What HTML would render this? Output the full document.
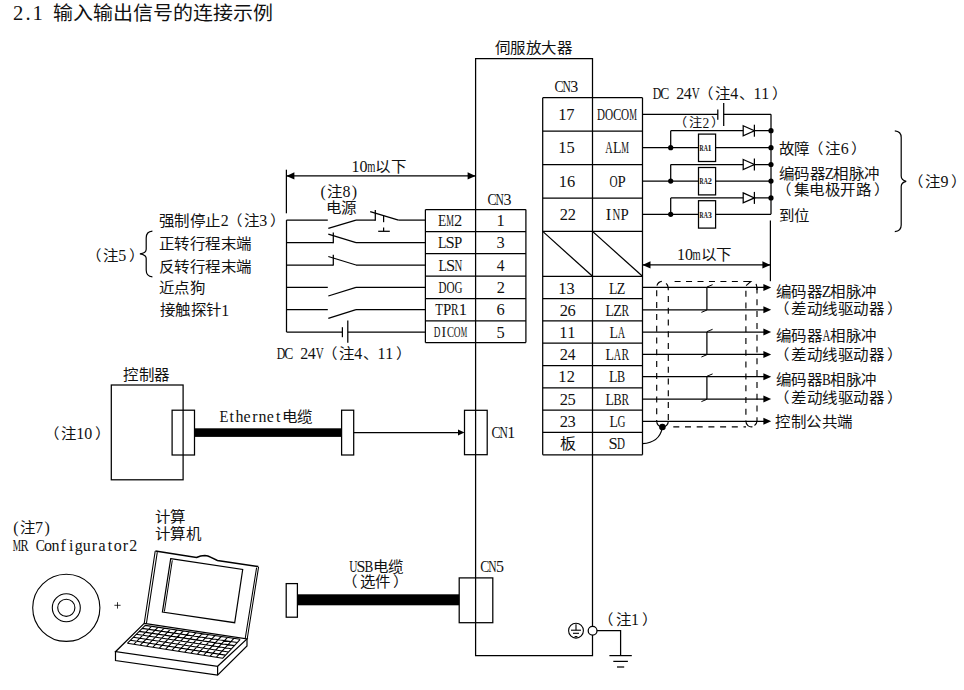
<!DOCTYPE html>
<html lang="zh-CN"><head><meta charset="utf-8"><title>输入输出信号的连接示例</title>
<style>
html,body{margin:0;padding:0;background:#fff;width:964px;height:690px;overflow:hidden}
svg{display:block}
text{font-family:"Liberation Serif",serif;fill:#111}
</style></head><body>
<svg width="964" height="690" viewBox="0 0 964 690">
<g stroke="#000" fill="none">
<path d="M475.6,655.6 L475.6,58.5 L592.5,58.5 L592.5,655.6 Z" stroke-width="1.25" fill="none" />
<line x1="542.7" y1="97.7" x2="642.5" y2="97.7" stroke-width="1.25" />
<line x1="542.7" y1="131.1" x2="642.5" y2="131.1" stroke-width="1.25" />
<line x1="542.7" y1="164.6" x2="642.5" y2="164.6" stroke-width="1.25" />
<line x1="542.7" y1="198.0" x2="642.5" y2="198.0" stroke-width="1.25" />
<line x1="542.7" y1="231.4" x2="642.5" y2="231.4" stroke-width="1.25" />
<line x1="542.7" y1="276.3" x2="642.5" y2="276.3" stroke-width="1.25" />
<line x1="542.7" y1="298.61" x2="642.5" y2="298.61" stroke-width="1.25" />
<line x1="542.7" y1="320.93" x2="642.5" y2="320.93" stroke-width="1.25" />
<line x1="542.7" y1="343.24" x2="642.5" y2="343.24" stroke-width="1.25" />
<line x1="542.7" y1="365.55" x2="642.5" y2="365.55" stroke-width="1.25" />
<line x1="542.7" y1="387.86" x2="642.5" y2="387.86" stroke-width="1.25" />
<line x1="542.7" y1="410.18" x2="642.5" y2="410.18" stroke-width="1.25" />
<line x1="542.7" y1="432.49" x2="642.5" y2="432.49" stroke-width="1.25" />
<line x1="542.7" y1="454.8" x2="642.5" y2="454.8" stroke-width="1.25" />
<line x1="542.7" y1="97.7" x2="542.7" y2="454.8" stroke-width="1.25" />
<line x1="642.5" y1="97.7" x2="642.5" y2="454.8" stroke-width="1.25" />
<line x1="542.7" y1="231.4" x2="592.5" y2="276.3" stroke-width="1.25" />
<line x1="592.5" y1="231.4" x2="642.5" y2="276.3" stroke-width="1.25" />
<line x1="642.5" y1="114.3" x2="717.8" y2="114.3" stroke-width="1.25" />
<line x1="717.8" y1="109.6" x2="717.8" y2="119.7" stroke-width="1.25" />
<line x1="723.7" y1="103.0" x2="723.7" y2="126.0" stroke-width="1.25" />
<line x1="723.7" y1="114.3" x2="771.0" y2="114.3" stroke-width="1.25" />
<line x1="771.0" y1="114.3" x2="771.0" y2="214.3" stroke-width="1.25" />
<line x1="642.5" y1="147.7" x2="771.0" y2="147.7" stroke-width="1.25" />
<line x1="670.7" y1="147.7" x2="670.7" y2="130.7" stroke-width="1.25" />
<line x1="670.7" y1="130.7" x2="771.0" y2="130.7" stroke-width="1.25" />
<circle cx="670.7" cy="147.7" r="2.6" fill="#000" stroke="none"/>
<circle cx="771.0" cy="130.7" r="2.6" fill="#000" stroke="none"/>
<circle cx="771.0" cy="147.7" r="2.6" fill="#000" stroke="none"/>
<path d="M743.2,125.69999999999999 L754.4,130.7 L743.2,135.7 Z" stroke-width="1.25" fill="#fff" />
<line x1="754.4" y1="124.69999999999999" x2="754.4" y2="136.7" stroke-width="1.25" />
<rect x="698.5" y="134.1" width="17.1" height="27.4" fill="#fff" stroke-width="1.25" />
<line x1="642.5" y1="181.1" x2="771.0" y2="181.1" stroke-width="1.25" />
<line x1="670.7" y1="181.1" x2="670.7" y2="164.5" stroke-width="1.25" />
<line x1="670.7" y1="164.5" x2="771.0" y2="164.5" stroke-width="1.25" />
<circle cx="670.7" cy="181.1" r="2.6" fill="#000" stroke="none"/>
<circle cx="771.0" cy="164.5" r="2.6" fill="#000" stroke="none"/>
<circle cx="771.0" cy="181.1" r="2.6" fill="#000" stroke="none"/>
<path d="M743.2,159.5 L754.4,164.5 L743.2,169.5 Z" stroke-width="1.25" fill="#fff" />
<line x1="754.4" y1="158.5" x2="754.4" y2="170.5" stroke-width="1.25" />
<rect x="698.5" y="167.5" width="17.1" height="27.4" fill="#fff" stroke-width="1.25" />
<line x1="642.5" y1="214.3" x2="771.0" y2="214.3" stroke-width="1.25" />
<line x1="670.7" y1="214.3" x2="670.7" y2="197.9" stroke-width="1.25" />
<line x1="670.7" y1="197.9" x2="771.0" y2="197.9" stroke-width="1.25" />
<circle cx="670.7" cy="214.3" r="2.6" fill="#000" stroke="none"/>
<circle cx="771.0" cy="197.9" r="2.6" fill="#000" stroke="none"/>
<path d="M743.2,192.9 L754.4,197.9 L743.2,202.9 Z" stroke-width="1.25" fill="#fff" />
<line x1="754.4" y1="191.9" x2="754.4" y2="203.9" stroke-width="1.25" />
<rect x="698.5" y="200.70000000000002" width="17.1" height="27.4" fill="#fff" stroke-width="1.25" />
<line x1="770.4" y1="220.5" x2="770.4" y2="281.2" stroke-width="1.25" />
<line x1="642.5" y1="264.9" x2="770.4" y2="264.9" stroke-width="1.25" />
<path d="M642.5,264.9 L650.5,261.29999999999995 L650.5,268.5 Z" fill="#000" stroke="none"/>
<path d="M770.4,264.9 L762.4,261.29999999999995 L762.4,268.5 Z" fill="#000" stroke="none"/>
<line x1="642.5" y1="287.45500000000004" x2="765" y2="287.45500000000004" stroke-width="1.25" />
<path d="M771.2,287.45500000000004 L763.4000000000001,283.95500000000004 L763.4000000000001,290.95500000000004 Z" fill="#000" stroke="none"/>
<line x1="642.5" y1="309.77" x2="765" y2="309.77" stroke-width="1.25" />
<path d="M771.2,309.77 L763.4000000000001,306.27 L763.4000000000001,313.27 Z" fill="#000" stroke="none"/>
<line x1="642.5" y1="332.08500000000004" x2="765" y2="332.08500000000004" stroke-width="1.25" />
<path d="M771.2,332.08500000000004 L763.4000000000001,328.58500000000004 L763.4000000000001,335.58500000000004 Z" fill="#000" stroke="none"/>
<line x1="642.5" y1="354.395" x2="765" y2="354.395" stroke-width="1.25" />
<path d="M771.2,354.395 L763.4000000000001,350.895 L763.4000000000001,357.895 Z" fill="#000" stroke="none"/>
<line x1="642.5" y1="376.70500000000004" x2="765" y2="376.70500000000004" stroke-width="1.25" />
<path d="M771.2,376.70500000000004 L763.4000000000001,373.20500000000004 L763.4000000000001,380.20500000000004 Z" fill="#000" stroke="none"/>
<line x1="642.5" y1="399.02" x2="765" y2="399.02" stroke-width="1.25" />
<path d="M771.2,399.02 L763.4000000000001,395.52 L763.4000000000001,402.52 Z" fill="#000" stroke="none"/>
<line x1="642.5" y1="421.33500000000004" x2="765" y2="421.33500000000004" stroke-width="1.25" />
<path d="M771.2,421.33500000000004 L763.4000000000001,417.83500000000004 L763.4000000000001,424.83500000000004 Z" fill="#000" stroke="none"/>
<line x1="706.9" y1="287.45500000000004" x2="706.9" y2="309.77" stroke-width="1.25" />
<line x1="706.9" y1="287.05500000000006" x2="712.6" y2="284.65500000000003" stroke-width="1.0" />
<line x1="701.4" y1="312.37" x2="706.9" y2="310.07" stroke-width="1.0" />
<line x1="706.9" y1="332.08500000000004" x2="706.9" y2="354.395" stroke-width="1.25" />
<line x1="706.9" y1="331.68500000000006" x2="712.6" y2="329.285" stroke-width="1.0" />
<line x1="701.4" y1="356.995" x2="706.9" y2="354.695" stroke-width="1.0" />
<line x1="706.9" y1="376.70500000000004" x2="706.9" y2="399.02" stroke-width="1.25" />
<line x1="706.9" y1="376.30500000000006" x2="712.6" y2="373.90500000000003" stroke-width="1.0" />
<line x1="701.4" y1="401.62" x2="706.9" y2="399.32" stroke-width="1.0" />
<path d="M656.7,290.30 L656.7,296.30 M656.7,302.10 L656.7,308.10 M656.7,313.90 L656.7,319.90 M656.7,325.70 L656.7,331.70 M656.7,337.50 L656.7,343.50 M656.7,349.30 L656.7,355.30 M656.7,361.10 L656.7,367.10 M656.7,372.90 L656.7,378.90 M656.7,384.70 L656.7,390.70 M656.7,396.50 L656.7,402.50 M656.7,408.30 L656.7,414.30 M656.7,420.10 L656.7,421.30" stroke-width="1.15" fill="none" />
<path d="M668.3,295.90 L668.3,301.90 M668.3,307.70 L668.3,313.70 M668.3,319.50 L668.3,325.50 M668.3,331.30 L668.3,337.30 M668.3,343.10 L668.3,349.10 M668.3,354.90 L668.3,360.90 M668.3,366.70 L668.3,372.70 M668.3,378.50 L668.3,384.50 M668.3,390.30 L668.3,396.30 M668.3,402.10 L668.3,408.10 M668.3,413.90 L668.3,419.90" stroke-width="1.15" fill="none" />
<path d="M745.9,290.80 L745.9,296.80 M745.9,302.60 L745.9,308.60 M745.9,314.40 L745.9,320.40 M745.9,326.20 L745.9,332.20 M745.9,338.00 L745.9,344.00 M745.9,349.80 L745.9,355.80 M745.9,361.60 L745.9,367.60 M745.9,373.40 L745.9,379.40 M745.9,385.20 L745.9,391.20 M745.9,397.00 L745.9,403.00 M745.9,408.80 L745.9,414.80 M745.9,420.60 L745.9,421.30" stroke-width="1.15" fill="none" />
<path d="M757.0,287.50 L757.0,293.50 M757.0,299.30 L757.0,305.30 M757.0,311.10 L757.0,317.10 M757.0,322.90 L757.0,328.90 M757.0,334.70 L757.0,340.70 M757.0,346.50 L757.0,352.50 M757.0,358.30 L757.0,364.30 M757.0,370.10 L757.0,376.10 M757.0,381.90 L757.0,387.90 M757.0,393.70 L757.0,399.70 M757.0,405.50 L757.0,411.50 M757.0,417.30 L757.0,421.30" stroke-width="1.15" fill="none" />
<path d="M656.9,285.6 Q658.2,281.8 661.8,281.4" stroke-width="1.15" fill="none" />
<path d="M666.0,283.6 Q668.3,285 668.3,290.3" stroke-width="1.15" fill="none" />
<path d="M743.3,281.5 L750.8,281.5 L746.1,285.6" stroke-width="1.15" fill="none" />
<path d="M756.1,283.8 L757.0,287.5 L757.0,290.1" stroke-width="1.15" fill="none" />
<path d="M656.7,421.3 A5.8,5.8 0 0,0 668.3,421.3" stroke-width="1.15" fill="none" />
<path d="M745.9,421.3 A5.6,5.6 0 0,0 752.5,426.8" stroke-width="1.15" fill="none" />
<path d="M754.5,425.5 A5.6,5.6 0 0,0 757.0,421.3" stroke-width="1.15" fill="none" />
<path d="M674.60,281.5 L680.60,281.5 M686.05,281.5 L692.05,281.5 M697.50,281.5 L703.50,281.5 M708.95,281.5 L714.95,281.5 M720.40,281.5 L726.40,281.5 M731.85,281.5 L737.85,281.5" stroke-width="1.15" fill="none" />
<path d="M673.30,426.8 L679.30,426.8 M685.00,426.8 L691.00,426.8 M696.70,426.8 L702.70,426.8 M708.40,426.8 L714.40,426.8 M720.10,426.8 L726.10,426.8 M731.80,426.8 L737.80,426.8 M743.50,426.8 L746.00,426.8" stroke-width="1.15" fill="none" />
<circle cx="662.4" cy="427.0" r="3.3" fill="#000" stroke="none"/>
<path d="M662.2,428 Q659.5,442.5 642.5,443.7" stroke-width="1.2" fill="none" />
<line x1="286.4" y1="169.7" x2="286.4" y2="213.3" stroke-width="1.25" />
<line x1="286.4" y1="175.9" x2="475.6" y2="175.9" stroke-width="1.25" />
<path d="M286.4,175.9 L294.4,172.3 L294.4,179.5 Z" fill="#000" stroke="none"/>
<path d="M475.6,175.9 L467.6,172.3 L467.6,179.5 Z" fill="#000" stroke="none"/>
<line x1="425.4" y1="209.6" x2="525.9" y2="209.6" stroke-width="1.25" />
<line x1="425.4" y1="231.5" x2="525.9" y2="231.5" stroke-width="1.25" />
<line x1="425.4" y1="253.5" x2="525.9" y2="253.5" stroke-width="1.25" />
<line x1="425.4" y1="276.2" x2="525.9" y2="276.2" stroke-width="1.25" />
<line x1="425.4" y1="298.5" x2="525.9" y2="298.5" stroke-width="1.25" />
<line x1="425.4" y1="320.9" x2="525.9" y2="320.9" stroke-width="1.25" />
<line x1="425.4" y1="342.6" x2="525.9" y2="342.6" stroke-width="1.25" />
<line x1="425.4" y1="209.6" x2="425.4" y2="342.6" stroke-width="1.25" />
<line x1="525.9" y1="209.6" x2="525.9" y2="342.6" stroke-width="1.25" />
<line x1="286.5" y1="220.1" x2="286.5" y2="332.0" stroke-width="1.25" />
<line x1="286.5" y1="220.1" x2="327.8" y2="220.1" stroke-width="1.25" />
<line x1="328.3" y1="228.4" x2="356" y2="220.1" stroke-width="1.25" />
<line x1="356" y1="220.1" x2="375.3" y2="220.1" stroke-width="1.25" />
<line x1="375.3" y1="210.1" x2="375.3" y2="220.7" stroke-width="1.25" />
<line x1="370.2" y1="211.7" x2="398.5" y2="220.1" stroke-width="1.25" />
<line x1="398.5" y1="220.1" x2="425.4" y2="220.1" stroke-width="1.25" />
<line x1="383.6" y1="215.6" x2="383.6" y2="222.2" stroke-width="1.25" />
<line x1="383.6" y1="227.5" x2="383.6" y2="231.29999999999998" stroke-width="1.25" />
<line x1="378.2" y1="231.29999999999998" x2="389.8" y2="231.29999999999998" stroke-width="1.25" />
<line x1="286.5" y1="242.7" x2="333.3" y2="242.7" stroke-width="1.25" />
<line x1="333.3" y1="232.5" x2="333.3" y2="243.29999999999998" stroke-width="1.25" />
<line x1="328.3" y1="234.2" x2="356" y2="242.7" stroke-width="1.25" />
<line x1="356" y1="242.7" x2="425.4" y2="242.7" stroke-width="1.25" />
<line x1="286.5" y1="265.0" x2="333.3" y2="265.0" stroke-width="1.25" />
<line x1="333.3" y1="254.8" x2="333.3" y2="265.6" stroke-width="1.25" />
<line x1="328.3" y1="256.5" x2="356" y2="265.0" stroke-width="1.25" />
<line x1="356" y1="265.0" x2="425.4" y2="265.0" stroke-width="1.25" />
<line x1="286.5" y1="287.4" x2="327.8" y2="287.4" stroke-width="1.25" />
<line x1="328.3" y1="296.0" x2="356" y2="287.4" stroke-width="1.25" />
<line x1="356" y1="287.4" x2="425.4" y2="287.4" stroke-width="1.25" />
<line x1="286.5" y1="309.7" x2="327.8" y2="309.7" stroke-width="1.25" />
<line x1="328.3" y1="318.3" x2="356" y2="309.7" stroke-width="1.25" />
<line x1="356" y1="309.7" x2="425.4" y2="309.7" stroke-width="1.25" />
<line x1="286.5" y1="332.0" x2="342.4" y2="332.0" stroke-width="1.25" />
<line x1="342.4" y1="327.2" x2="342.4" y2="337.2" stroke-width="1.25" />
<line x1="347.8" y1="320.6" x2="347.8" y2="342.8" stroke-width="1.25" />
<line x1="347.8" y1="332.0" x2="425.4" y2="332.0" stroke-width="1.25" />
<rect x="111.3" y="385.0" width="71.8" height="94.8" fill="none" stroke-width="1.25" />
<rect x="172.1" y="410.2" width="22.4" height="44.8" fill="none" stroke-width="1.25" />
<rect x="194.5" y="428.3" width="147.1" height="8.6" fill="#000" stroke-width="0" />
<rect x="341.6" y="410.2" width="12.1" height="44.8" fill="none" stroke-width="1.25" />
<line x1="353.7" y1="432.5" x2="460" y2="432.5" stroke-width="1.25" />
<path d="M464.5,432.5 L458.0,429.4 L458.0,435.6 Z" fill="#000" stroke="none"/>
<rect x="464.5" y="410.3" width="22.7" height="44.4" fill="none" stroke-width="1.25" />
<rect x="286.2" y="583.6" width="11.2" height="33.6" fill="none" stroke-width="1.25" />
<rect x="297.4" y="594.3" width="161.8" height="11.0" fill="#000" stroke-width="0" />
<rect x="459.2" y="577.9" width="33.6" height="44.8" fill="none" stroke-width="1.25" />
<circle cx="592.6" cy="630.7" r="4.4" fill="#fff" stroke-width="1.25" />
<path d="M597,630.7 L620.6,630.7 L620.6,655.6" stroke-width="1.25" fill="none" />
<line x1="609.4" y1="655.6" x2="631.8" y2="655.6" stroke-width="1.25" />
<line x1="613.3" y1="661.4" x2="627.9" y2="661.4" stroke-width="1.25" />
<line x1="617" y1="667" x2="624.2" y2="667" stroke-width="1.25" />
<circle cx="576" cy="630.7" r="7.4" fill="none" stroke-width="1.1" />
<line x1="576" y1="624.3" x2="576" y2="630.2" stroke-width="1.1" />
<line x1="571" y1="630.2" x2="581" y2="630.2" stroke-width="1.1" />
<line x1="573" y1="633.3" x2="579" y2="633.3" stroke-width="1.1" />
<line x1="574.6" y1="636.6" x2="577.4" y2="636.6" stroke-width="1.1" />
<circle cx="66.3" cy="607.8" r="33.6" fill="none" stroke-width="1.1" />
<circle cx="66.3" cy="607.8" r="14.0" fill="none" stroke-width="1.1" />
<circle cx="66.3" cy="607.8" r="8.6" fill="none" stroke-width="1.1" />
<line x1="114.4" y1="605.3" x2="120.6" y2="605.3" stroke-width="0.8" />
<line x1="117.5" y1="602.2" x2="117.5" y2="608.6" stroke-width="0.8" />
<path d="M152.4,231.2 Q146.2,231.6 146.2,238 L146.2,249.2 Q146.2,253 139.9,253.9 Q146.2,254.8 146.2,258.6 L146.2,270 Q146.2,276.4 152.4,276.8" stroke-width="1.2" fill="none" />
<path d="M894.8,130.8 Q901.2,131.3 901.2,137.5 L901.2,176 Q901.2,180.3 906.2,181.3 Q901.2,182.3 901.2,186.6 L901.2,225 Q901.2,231.2 894.8,231.6" stroke-width="1.2" fill="none" />
<path d="M155.4,551 L196.5,557.5 Q200.5,555.6 204.9,555.5 Q208,555.5 210.5,557.2 L217.4,560.5 L258.3,566.6" stroke-width="1.55" fill="none" />
<path d="M258.6,566.8 L247.2,639 M256.6,567.6 L245.2,638.6" stroke-width="1.05" fill="none" />
<path d="M155.2,551.2 L144.2,623.3 M157.3,552.2 L146.4,623.6" stroke-width="1.05" fill="none" />
<path d="M170.7,558.7 L242.7,569.5 L234.7,622.7 L162.4,612.1 Z" stroke-width="1.2" fill="none" />
<path d="M172.3,560.3 L164.4,611.5" stroke-width="1.0" fill="none" />
<path d="M144.2,623.3 L247,639 L217.6,666.3 L115.5,651.7 Z" stroke-width="1.2" fill="none" />
<path d="M115.5,651.7 L115.5,660.5 L217.6,675.1 L247,646 L247,639 M217.6,666.3 L217.6,675.1" stroke-width="1.2" fill="none" />
<path d="M145.2,625.4 L240.2,639.3 M142.2,628.4 L237.3,642.5 M139.2,631.4 L234.3,645.6 M136.2,634.3 L231.4,648.8 M133.3,637.3 L228.5,652.0 M130.3,640.3 L225.5,655.1 M127.3,643.3 L222.6,658.3 M145.2,625.4 L127.3,643.3 M151.5,626.3 L133.7,644.3 M157.9,627.3 L140.0,645.3 M164.2,628.2 L146.4,646.3 M170.5,629.1 L152.7,647.3 M176.9,630.0 L159.1,648.3 M183.2,631.0 L165.4,649.3 M189.5,631.9 L171.8,650.3 M195.9,632.8 L178.1,651.3 M202.2,633.7 L184.5,652.3 M208.5,634.7 L190.8,653.3 M214.9,635.6 L197.2,654.3 M221.2,636.5 L203.5,655.3 M227.5,637.4 L209.9,656.3 M233.9,638.4 L216.2,657.3 M240.2,639.3 L222.6,658.3" stroke-width="1.1" fill="none" />
</g>
<g>
<g><text x="12.97" y="20.00" font-size="20.60">2</text><text x="25.43" y="20.00" font-size="20.60">.</text><text x="32.56" y="20.00" font-size="20.60">1</text><text x="53.00 73.00 93.00 113.00 133.00 153.00 173.00 193.00 213.00 233.00 253.00" y="20.00" font-size="20.00" transform="matrix(1,0,0,0.94,0,1.200)">输入输出信号的连接示例</text></g>
<g><text x="495.00 510.50 526.00 541.50 557.00" y="53.00" font-size="15.50" transform="matrix(1,0,0,0.94,0,3.180)">伺服放大器</text></g>
<g><text x="554.44" y="92.20" font-size="15.96" textLength="9.06" lengthAdjust="spacingAndGlyphs">C</text><text x="562.42" y="92.20" font-size="15.96" textLength="8.35" lengthAdjust="spacingAndGlyphs">N</text><text x="570.31" y="92.20" font-size="15.96">3</text></g>
<g><text x="652.66" y="99.00" font-size="15.96" textLength="8.57" lengthAdjust="spacingAndGlyphs">D</text><text x="660.19" y="99.00" font-size="15.96" textLength="9.06" lengthAdjust="spacingAndGlyphs">C</text><text x="676.22" y="99.00" font-size="15.96">2</text><text x="683.85" y="99.00" font-size="15.96">4</text><text x="691.63" y="99.00" font-size="15.96" textLength="8.00" lengthAdjust="spacingAndGlyphs">V</text><text x="697.64 715.00" y="99.00" font-size="15.50" transform="matrix(1,0,0,0.94,0,5.940)">（注</text><text x="730.35" y="99.00" font-size="15.96">4</text><text x="739.49" y="99.00" font-size="15.50" transform="matrix(1,0,0,0.94,0,5.940)">、</text><text x="753.41" y="99.00" font-size="15.96">1</text><text x="761.16" y="99.00" font-size="15.96">1</text><text x="771.73" y="99.00" font-size="15.50" transform="matrix(1,0,0,0.94,0,5.940)">）</text></g>
<g><text x="674.42 689.20" y="127.50" font-size="13.20" transform="matrix(1,0,0,0.94,0,7.650)">（注</text><text x="702.38" y="127.50" font-size="13.60">2</text><text x="711.11" y="127.50" font-size="13.20" transform="matrix(1,0,0,0.94,0,7.650)">）</text></g>
<g><text x="779.00 794.50 808.14 825.50" y="153.80" font-size="15.50" transform="matrix(1,0,0,0.94,0,9.228)">故障（注</text><text x="840.78" y="153.80" font-size="15.96">6</text><text x="851.23" y="153.80" font-size="15.50" transform="matrix(1,0,0,0.94,0,9.228)">）</text></g>
<g><text x="778.90 794.40 809.90" y="179.00" font-size="15.50" transform="matrix(1,0,0,0.94,0,10.740)">编码器</text><text x="824.67" y="179.00" font-size="15.96" textLength="9.31" lengthAdjust="spacingAndGlyphs">Z</text><text x="833.15 848.65 864.15" y="179.00" font-size="15.50" transform="matrix(1,0,0,0.94,0,10.740)">相脉冲</text></g>
<g><text x="776.24 793.60 809.10 824.60 840.10 855.60 873.58" y="195.00" font-size="15.50" transform="matrix(1,0,0,0.94,0,11.700)">（集电极开路）</text></g>
<g><text x="779.00 794.50" y="220.90" font-size="15.50" transform="matrix(1,0,0,0.94,0,13.254)">到位</text></g>
<g><text x="907.74 925.10" y="187.30" font-size="15.50" transform="matrix(1,0,0,0.94,0,11.238)">（注</text><text x="940.55" y="187.30" font-size="15.96">9</text><text x="950.83" y="187.30" font-size="15.50" transform="matrix(1,0,0,0.94,0,11.238)">）</text></g>
<g><text x="351.56" y="172.40" font-size="15.96">1</text><text x="359.53" y="172.40" font-size="15.96">0</text><text x="367.18" y="172.40" font-size="15.96" textLength="8.13" lengthAdjust="spacingAndGlyphs">m</text><text x="375.15 390.65" y="172.40" font-size="15.50" transform="matrix(1,0,0,0.94,0,10.344)">以下</text></g>
<g><text x="320.52" y="196.70" font-size="15.96">(</text><text x="327.15" y="196.70" font-size="15.50" transform="matrix(1,0,0,0.94,0,11.802)">注</text><text x="342.53" y="196.70" font-size="15.96">8</text><text x="351.71" y="196.70" font-size="15.96">)</text></g>
<g><text x="326.00 341.50" y="212.90" font-size="15.50" transform="matrix(1,0,0,0.94,0,12.774)">电源</text></g>
<g><text x="487.54" y="204.50" font-size="15.96" textLength="9.06" lengthAdjust="spacingAndGlyphs">C</text><text x="495.52" y="204.50" font-size="15.96" textLength="8.35" lengthAdjust="spacingAndGlyphs">N</text><text x="503.41" y="204.50" font-size="15.96">3</text></g>
<g><text x="158.70 174.20 189.70 205.20" y="226.10" font-size="15.50" transform="matrix(1,0,0,0.94,0,13.566)">强制停止</text><text x="220.67" y="226.10" font-size="15.96">2</text><text x="226.59 243.95" y="226.10" font-size="15.50" transform="matrix(1,0,0,0.94,0,13.566)">（注</text><text x="259.26" y="226.10" font-size="15.96">3</text><text x="269.68" y="226.10" font-size="15.50" transform="matrix(1,0,0,0.94,0,13.566)">）</text></g>
<g><text x="158.70 174.20 189.70 205.20 220.70 236.20" y="249.00" font-size="15.50" transform="matrix(1,0,0,0.94,0,14.940)">正转行程末端</text></g>
<g><text x="158.70 174.20 189.70 205.20 220.70 236.20" y="271.80" font-size="15.50" transform="matrix(1,0,0,0.94,0,16.308)">反转行程末端</text></g>
<g><text x="158.70 174.20 189.70" y="292.90" font-size="15.50" transform="matrix(1,0,0,0.94,0,17.574)">近点狗</text></g>
<g><text x="159.70 175.20 190.70 206.20" y="315.50" font-size="15.50" transform="matrix(1,0,0,0.94,0,18.930)">接触探针</text><text x="221.36" y="315.50" font-size="15.96">1</text></g>
<g><text x="85.74 103.10" y="260.80" font-size="15.50" transform="matrix(1,0,0,0.94,0,15.648)">（注</text><text x="118.33" y="260.80" font-size="15.96">5</text><text x="128.83" y="260.80" font-size="15.50" transform="matrix(1,0,0,0.94,0,15.648)">）</text></g>
<g><text x="276.66" y="358.90" font-size="15.96" textLength="8.57" lengthAdjust="spacingAndGlyphs">D</text><text x="284.19" y="358.90" font-size="15.96" textLength="9.06" lengthAdjust="spacingAndGlyphs">C</text><text x="300.22" y="358.90" font-size="15.96">2</text><text x="307.85" y="358.90" font-size="15.96">4</text><text x="315.63" y="358.90" font-size="15.96" textLength="8.00" lengthAdjust="spacingAndGlyphs">V</text><text x="321.64 339.00" y="358.90" font-size="15.50" transform="matrix(1,0,0,0.94,0,21.534)">（注</text><text x="354.35" y="358.90" font-size="15.96">4</text><text x="363.49" y="358.90" font-size="15.50" transform="matrix(1,0,0,0.94,0,21.534)">、</text><text x="377.41" y="358.90" font-size="15.96">1</text><text x="385.16" y="358.90" font-size="15.96">1</text><text x="395.73" y="358.90" font-size="15.50" transform="matrix(1,0,0,0.94,0,21.534)">）</text></g>
<g><text x="123.10 138.60 154.10" y="380.00" font-size="15.50" transform="matrix(1,0,0,0.94,0,22.800)">控制器</text></g>
<g><text x="219.58" y="421.80" font-size="15.96" textLength="8.89" lengthAdjust="spacingAndGlyphs">E</text><text x="229.38" y="421.80" font-size="15.96">t</text><text x="235.41" y="421.80" font-size="15.96">h</text><text x="243.55" y="421.80" font-size="15.96">e</text><text x="252.13" y="421.80" font-size="15.96">r</text><text x="258.57" y="421.80" font-size="15.96">n</text><text x="266.80" y="421.80" font-size="15.96">e</text><text x="275.88" y="421.80" font-size="15.96">t</text><text x="282.00 297.50" y="421.80" font-size="15.50" transform="matrix(1,0,0,0.94,0,25.308)">电缆</text></g>
<g><text x="43.84 61.20" y="438.80" font-size="15.50" transform="matrix(1,0,0,0.94,0,26.328)">（注</text><text x="76.36" y="438.80" font-size="15.96">1</text><text x="84.33" y="438.80" font-size="15.96">0</text><text x="94.68" y="438.80" font-size="15.50" transform="matrix(1,0,0,0.94,0,26.328)">）</text></g>
<g><text x="491.54" y="438.00" font-size="15.96" textLength="9.06" lengthAdjust="spacingAndGlyphs">C</text><text x="499.52" y="438.00" font-size="15.96" textLength="8.35" lengthAdjust="spacingAndGlyphs">N</text><text x="507.26" y="438.00" font-size="15.96">1</text></g>
<g><text x="676.96" y="259.60" font-size="15.96">1</text><text x="684.93" y="259.60" font-size="15.96">0</text><text x="692.58" y="259.60" font-size="15.96" textLength="8.13" lengthAdjust="spacingAndGlyphs">m</text><text x="700.55 716.05" y="259.60" font-size="15.50" transform="matrix(1,0,0,0.94,0,15.576)">以下</text></g>
<g><text x="776.00 791.50 807.00" y="296.80" font-size="15.50" transform="matrix(1,0,0,0.94,0,17.808)">编码器</text><text x="821.77" y="296.80" font-size="15.96" textLength="9.31" lengthAdjust="spacingAndGlyphs">Z</text><text x="830.25 845.75 861.25" y="296.80" font-size="15.50" transform="matrix(1,0,0,0.94,0,17.808)">相脉冲</text></g>
<g><text x="773.74 791.10 806.60 822.10 837.60 853.10 868.60 886.58" y="313.60" font-size="15.50" transform="matrix(1,0,0,0.94,0,18.816)">（差动线驱动器）</text></g>
<g><text x="776.00 791.50 807.00" y="340.70" font-size="15.50" transform="matrix(1,0,0,0.94,0,20.442)">编码器</text><text x="822.39" y="340.70" font-size="15.96" textLength="7.94" lengthAdjust="spacingAndGlyphs">A</text><text x="830.25 845.75 861.25" y="340.70" font-size="15.50" transform="matrix(1,0,0,0.94,0,20.442)">相脉冲</text></g>
<g><text x="773.74 791.10 806.60 822.10 837.60 853.10 868.60 886.58" y="359.80" font-size="15.50" transform="matrix(1,0,0,0.94,0,21.588)">（差动线驱动器）</text></g>
<g><text x="776.00 791.50 807.00" y="384.70" font-size="15.50" transform="matrix(1,0,0,0.94,0,23.082)">编码器</text><text x="822.12" y="384.70" font-size="15.96" textLength="8.77" lengthAdjust="spacingAndGlyphs">B</text><text x="830.25 845.75 861.25" y="384.70" font-size="15.50" transform="matrix(1,0,0,0.94,0,23.082)">相脉冲</text></g>
<g><text x="773.74 791.10 806.60 822.10 837.60 853.10 868.60 886.58" y="403.20" font-size="15.50" transform="matrix(1,0,0,0.94,0,24.192)">（差动线驱动器）</text></g>
<g><text x="775.50 791.00 806.50 822.00 837.50" y="427.00" font-size="15.50" transform="matrix(1,0,0,0.94,0,25.620)">控制公共端</text></g>
<g><text x="155.00 170.50" y="522.40" font-size="15.50" transform="matrix(1,0,0,0.94,0,31.344)">计算</text></g>
<g><text x="155.00 170.50 186.00" y="539.20" font-size="15.50" transform="matrix(1,0,0,0.94,0,32.352)">计算机</text></g>
<g><text x="13.32" y="533.00" font-size="15.96">(</text><text x="19.95" y="533.00" font-size="15.50" transform="matrix(1,0,0,0.94,0,31.980)">注</text><text x="35.04" y="533.00" font-size="15.96">7</text><text x="44.51" y="533.00" font-size="15.96">)</text></g>
<g><text x="12.73" y="550.60" font-size="15.96" textLength="8.29" lengthAdjust="spacingAndGlyphs">M</text><text x="20.40" y="550.60" font-size="15.96" textLength="8.12" lengthAdjust="spacingAndGlyphs">R</text><text x="35.69" y="550.60" font-size="15.96" textLength="9.06" lengthAdjust="spacingAndGlyphs">C</text><text x="43.88" y="550.60" font-size="15.96">o</text><text x="51.57" y="550.60" font-size="15.96">n</text><text x="60.47" y="550.60" font-size="15.96">f</text><text x="68.89" y="550.60" font-size="15.96">i</text><text x="74.69" y="550.60" font-size="15.96">g</text><text x="82.66" y="550.60" font-size="15.96">u</text><text x="91.63" y="550.60" font-size="15.96">r</text><text x="98.41" y="550.60" font-size="15.96">a</text><text x="107.63" y="550.60" font-size="15.96">t</text><text x="113.63" y="550.60" font-size="15.96">o</text><text x="122.63" y="550.60" font-size="15.96">r</text><text x="129.22" y="550.60" font-size="15.96">2</text></g>
<g><text x="349.16" y="571.60" font-size="15.96" textLength="8.23" lengthAdjust="spacingAndGlyphs">U</text><text x="356.55" y="571.60" font-size="15.96">S</text><text x="364.52" y="571.60" font-size="15.96" textLength="8.77" lengthAdjust="spacingAndGlyphs">B</text><text x="372.65 388.15" y="571.60" font-size="15.50" transform="matrix(1,0,0,0.94,0,34.296)">电缆</text></g>
<g><text x="342.44 359.80 375.30 393.28" y="587.10" font-size="15.50" transform="matrix(1,0,0,0.94,0,35.226)">（选件）</text></g>
<g><text x="480.24" y="572.20" font-size="15.96" textLength="9.06" lengthAdjust="spacingAndGlyphs">C</text><text x="488.22" y="572.20" font-size="15.96" textLength="8.35" lengthAdjust="spacingAndGlyphs">N</text><text x="496.03" y="572.20" font-size="15.96">5</text></g>
<g><text x="598.44 615.80" y="625.00" font-size="15.50" transform="matrix(1,0,0,0.94,0,37.500)">（注</text><text x="630.96" y="625.00" font-size="15.96">1</text><text x="641.53" y="625.00" font-size="15.50" transform="matrix(1,0,0,0.94,0,37.500)">）</text></g>
<g><text x="699.60" y="150.60" font-size="8.24" textLength="4.05" lengthAdjust="spacingAndGlyphs" font-weight="bold">R</text><text x="703.64" y="150.60" font-size="8.24" textLength="4.10" lengthAdjust="spacingAndGlyphs" font-weight="bold">A</text><text x="707.52" y="150.60" font-size="8.24" font-weight="bold">1</text></g>
<g><text x="699.60" y="184.40" font-size="8.24" textLength="4.05" lengthAdjust="spacingAndGlyphs" font-weight="bold">R</text><text x="703.64" y="184.40" font-size="8.24" textLength="4.10" lengthAdjust="spacingAndGlyphs" font-weight="bold">A</text><text x="707.64" y="184.40" font-size="8.24" font-weight="bold">2</text></g>
<g><text x="699.60" y="217.80" font-size="8.24" textLength="4.05" lengthAdjust="spacingAndGlyphs" font-weight="bold">R</text><text x="703.64" y="217.80" font-size="8.24" textLength="4.10" lengthAdjust="spacingAndGlyphs" font-weight="bold">A</text><text x="707.63" y="217.80" font-size="8.24" font-weight="bold">3</text></g>
<g><text x="558.35" y="120.30" font-size="16.48">1</text><text x="566.27" y="120.30" font-size="16.48">7</text></g>
<g><text x="597.08" y="120.30" font-size="16.48" textLength="7.96" lengthAdjust="spacingAndGlyphs">D</text><text x="604.94" y="120.30" font-size="16.48" textLength="8.12" lengthAdjust="spacingAndGlyphs">O</text><text x="612.88" y="120.30" font-size="16.48" textLength="8.41" lengthAdjust="spacingAndGlyphs">C</text><text x="620.94" y="120.30" font-size="16.48" textLength="8.12" lengthAdjust="spacingAndGlyphs">O</text><text x="629.15" y="120.30" font-size="16.48" textLength="7.70" lengthAdjust="spacingAndGlyphs">M</text></g>
<g><text x="558.35" y="153.45" font-size="16.48">1</text><text x="566.42" y="153.45" font-size="16.48">5</text></g>
<g><text x="605.30" y="153.45" font-size="16.48" textLength="7.37" lengthAdjust="spacingAndGlyphs">A</text><text x="613.00" y="153.45" font-size="16.48" textLength="8.43" lengthAdjust="spacingAndGlyphs">L</text><text x="621.15" y="153.45" font-size="16.48" textLength="7.70" lengthAdjust="spacingAndGlyphs">M</text></g>
<g><text x="558.85" y="186.60" font-size="16.48">1</text><text x="566.97" y="186.60" font-size="16.48">6</text></g>
<g><text x="609.44" y="186.60" font-size="16.48" textLength="8.12" lengthAdjust="spacingAndGlyphs">O</text><text x="617.47" y="186.60" font-size="16.48" textLength="8.22" lengthAdjust="spacingAndGlyphs">P</text></g>
<g><text x="559.67" y="220.40" font-size="16.48">2</text><text x="567.67" y="220.40" font-size="16.48">2</text></g>
<g><text x="605.75" y="220.40" font-size="16.48">I</text><text x="612.59" y="220.40" font-size="16.48" textLength="7.76" lengthAdjust="spacingAndGlyphs">N</text><text x="620.47" y="220.40" font-size="16.48" textLength="8.22" lengthAdjust="spacingAndGlyphs">P</text></g>
<g><text x="558.35" y="293.69" font-size="16.48">1</text><text x="566.51" y="293.69" font-size="16.48">3</text></g>
<g><text x="609.00" y="293.69" font-size="16.48" textLength="8.43" lengthAdjust="spacingAndGlyphs">L</text><text x="616.72" y="293.69" font-size="16.48" textLength="8.65" lengthAdjust="spacingAndGlyphs">Z</text></g>
<g><text x="559.67" y="315.89" font-size="16.48">2</text><text x="567.47" y="315.89" font-size="16.48">6</text></g>
<g><text x="605.50" y="315.89" font-size="16.48" textLength="8.43" lengthAdjust="spacingAndGlyphs">L</text><text x="613.22" y="315.89" font-size="16.48" textLength="8.65" lengthAdjust="spacingAndGlyphs">Z</text><text x="621.57" y="315.89" font-size="16.48" textLength="7.54" lengthAdjust="spacingAndGlyphs">R</text></g>
<g><text x="559.35" y="338.10" font-size="16.48">1</text><text x="567.35" y="338.10" font-size="16.48">1</text></g>
<g><text x="609.50" y="338.10" font-size="16.48" textLength="8.43" lengthAdjust="spacingAndGlyphs">L</text><text x="617.80" y="338.10" font-size="16.48" textLength="7.37" lengthAdjust="spacingAndGlyphs">A</text></g>
<g><text x="559.67" y="360.26" font-size="16.48">2</text><text x="567.80" y="360.26" font-size="16.48" textLength="7.74" lengthAdjust="spacingAndGlyphs">4</text></g>
<g><text x="605.50" y="360.26" font-size="16.48" textLength="8.43" lengthAdjust="spacingAndGlyphs">L</text><text x="613.80" y="360.26" font-size="16.48" textLength="7.37" lengthAdjust="spacingAndGlyphs">A</text><text x="621.57" y="360.26" font-size="16.48" textLength="7.54" lengthAdjust="spacingAndGlyphs">R</text></g>
<g><text x="558.35" y="382.44" font-size="16.48">1</text><text x="566.67" y="382.44" font-size="16.48">2</text></g>
<g><text x="609.00" y="382.44" font-size="16.48" textLength="8.43" lengthAdjust="spacingAndGlyphs">L</text><text x="617.05" y="382.44" font-size="16.48" textLength="8.15" lengthAdjust="spacingAndGlyphs">B</text></g>
<g><text x="559.67" y="404.64" font-size="16.48">2</text><text x="567.42" y="404.64" font-size="16.48">5</text></g>
<g><text x="605.50" y="404.64" font-size="16.48" textLength="8.43" lengthAdjust="spacingAndGlyphs">L</text><text x="613.55" y="404.64" font-size="16.48" textLength="8.15" lengthAdjust="spacingAndGlyphs">B</text><text x="621.57" y="404.64" font-size="16.48" textLength="7.54" lengthAdjust="spacingAndGlyphs">R</text></g>
<g><text x="559.67" y="426.85" font-size="16.48">2</text><text x="567.51" y="426.85" font-size="16.48">3</text></g>
<g><text x="609.50" y="426.85" font-size="16.48" textLength="8.43" lengthAdjust="spacingAndGlyphs">L</text><text x="617.45" y="426.85" font-size="16.48" textLength="8.00" lengthAdjust="spacingAndGlyphs">G</text></g>
<g><text x="559.70" y="449.11" font-size="16.00" transform="matrix(1,0,0,0.94,0,26.947)">板</text></g>
<g><text x="608.38" y="449.01" font-size="16.48">S</text><text x="617.08" y="449.01" font-size="16.48" textLength="7.96" lengthAdjust="spacingAndGlyphs">D</text></g>
<g><text x="438.01" y="226.20" font-size="16.48" textLength="8.26" lengthAdjust="spacingAndGlyphs">E</text><text x="446.15" y="226.20" font-size="16.48" textLength="7.70" lengthAdjust="spacingAndGlyphs">M</text><text x="453.97" y="226.20" font-size="16.48">2</text></g>
<g><text x="496.40" y="226.20" font-size="16.48">1</text></g>
<g><text x="438.00" y="248.40" font-size="16.48" textLength="8.43" lengthAdjust="spacingAndGlyphs">L</text><text x="445.38" y="248.40" font-size="16.48">S</text><text x="453.97" y="248.40" font-size="16.48" textLength="8.22" lengthAdjust="spacingAndGlyphs">P</text></g>
<g><text x="496.56" y="248.40" font-size="16.48">3</text></g>
<g><text x="438.50" y="270.50" font-size="16.48" textLength="8.43" lengthAdjust="spacingAndGlyphs">L</text><text x="445.88" y="270.50" font-size="16.48">S</text><text x="454.59" y="270.50" font-size="16.48" textLength="7.76" lengthAdjust="spacingAndGlyphs">N</text></g>
<g><text x="496.85" y="270.50" font-size="16.48" textLength="7.74" lengthAdjust="spacingAndGlyphs">4</text></g>
<g><text x="438.58" y="293.30" font-size="16.48" textLength="7.96" lengthAdjust="spacingAndGlyphs">D</text><text x="446.44" y="293.30" font-size="16.48" textLength="8.12" lengthAdjust="spacingAndGlyphs">O</text><text x="454.45" y="293.30" font-size="16.48" textLength="8.00" lengthAdjust="spacingAndGlyphs">G</text></g>
<g><text x="496.72" y="293.30" font-size="16.48">2</text></g>
<g><text x="435.17" y="315.40" font-size="16.48" textLength="7.63" lengthAdjust="spacingAndGlyphs">T</text><text x="442.97" y="315.40" font-size="16.48" textLength="8.22" lengthAdjust="spacingAndGlyphs">P</text><text x="451.07" y="315.40" font-size="16.48" textLength="7.54" lengthAdjust="spacingAndGlyphs">R</text><text x="458.65" y="315.40" font-size="16.48">1</text></g>
<g><text x="496.52" y="315.40" font-size="16.48">6</text></g>
<g><text x="433.87" y="337.30" font-size="13.80" textLength="6.67" lengthAdjust="spacingAndGlyphs">D</text><text x="441.55" y="337.30" font-size="13.80">I</text><text x="447.10" y="337.30" font-size="13.80" textLength="7.05" lengthAdjust="spacingAndGlyphs">C</text><text x="453.85" y="337.30" font-size="13.80" textLength="6.80" lengthAdjust="spacingAndGlyphs">O</text><text x="460.73" y="337.30" font-size="13.80" textLength="6.45" lengthAdjust="spacingAndGlyphs">M</text></g>
<g><text x="496.47" y="337.50" font-size="16.48">5</text></g>
</g>
</svg>
</body></html>
